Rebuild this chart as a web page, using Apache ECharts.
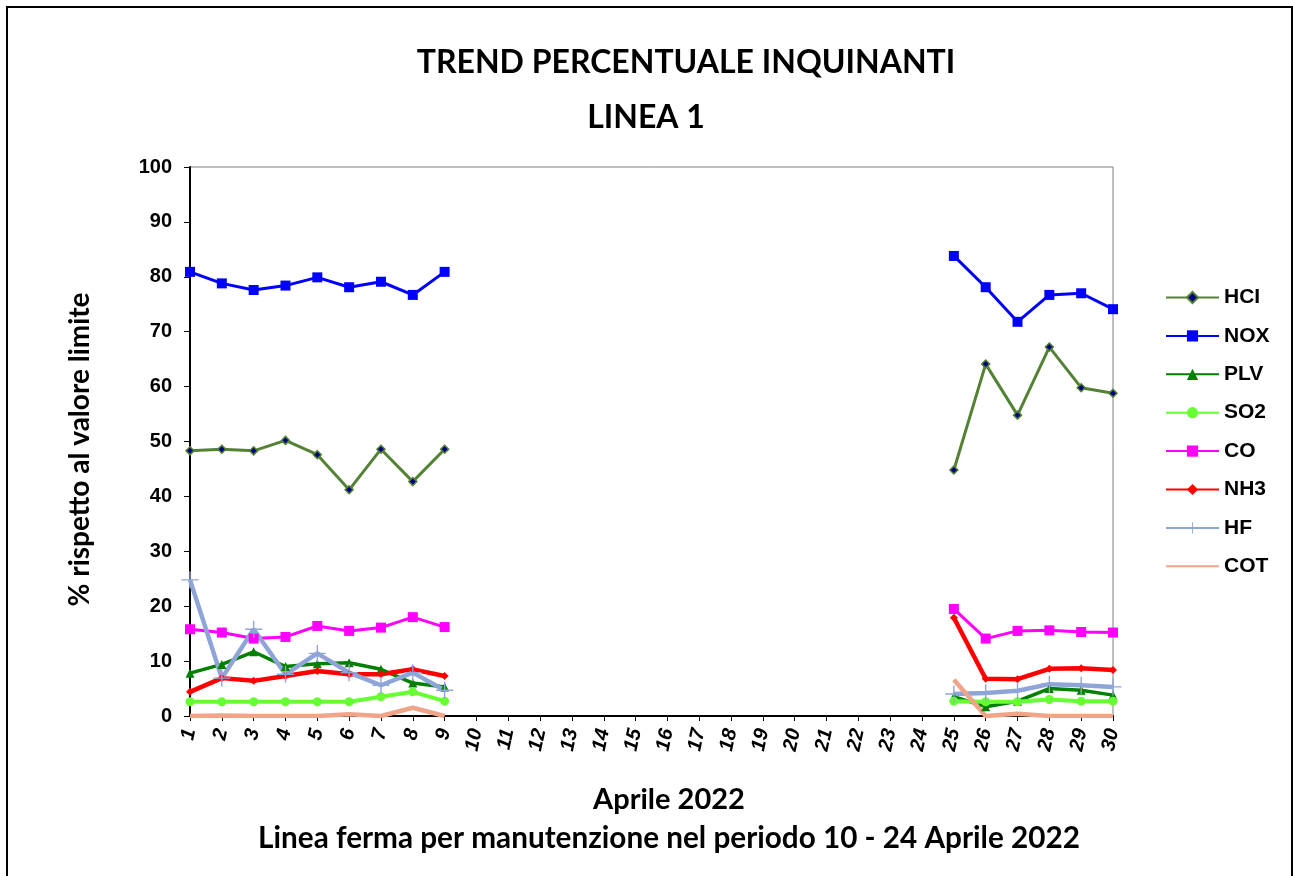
<!DOCTYPE html>
<html>
<head>
<meta charset="utf-8">
<script src="https://cdn.jsdelivr.net/npm/echarts@6/dist/echarts.min.js"></script>
<style>
  html, body { margin: 0; padding: 0; background: #fff; }
  #chart { width: 1293px; height: 876px; }
</style>
</head>
<body>
<div id="chart"></div>
<script>
var days = [];
for (var d = 1; d <= 30; d++) days.push(String(d));

// 10 - 24 aprile: linea ferma (null)
var off = [null, null, null, null, null, null, null, null, null, null, null, null, null, null, null];

var hcl_a = [48.3, 48.6, 48.3, 50.2, 47.6, 41.2, 48.6, 42.7, 48.6];
var hcl_b = [44.8, 64.1, 54.8, 67.2, 59.8, 58.8];
var nox_a = [80.9, 78.8, 77.6, 78.4, 79.9, 78.1, 79.1, 76.7, 80.9];
var nox_b = [83.8, 78.1, 71.8, 76.7, 77.0, 74.1];
var plv_a = [7.8, 9.4, 11.7, 9.0, 9.5, 9.7, 8.5, 6.0, 5.3];
var plv_b = [3.5, 1.7, 2.7, 5.0, 4.7, 3.8];
var so2_a = [2.6, 2.6, 2.6, 2.6, 2.6, 2.6, 3.5, 4.4, 2.7];
var so2_b = [2.7, 2.6, 2.6, 3.0, 2.7, 2.7];
var co_a = [15.8, 15.2, 14.1, 14.4, 16.4, 15.5, 16.1, 18.0, 16.2];
var co_b = [19.5, 14.1, 15.5, 15.6, 15.3, 15.2];
var nh3_a = [4.4, 6.9, 6.4, 7.3, 8.2, 7.6, 7.6, 8.5, 7.3];
var nh3_b = [17.9, 6.8, 6.7, 8.6, 8.7, 8.4];
var hf_a = [24.8, 6.9, 15.8, 7.6, 11.4, 7.9, 5.6, 7.9, 4.7];
var hf_b = [4.0, 4.2, 4.6, 5.8, 5.6, 5.3];
var cot_a = [0, 0.1, 0, 0, 0, 0.3, 0, 1.5, 0];
var cot_b = [6.6, 0, 0.4, 0, 0, 0];

function month(a, b) { return a.concat(off, b); }

var plus = 'path://M4.6,0h0.8v10h-0.8zM0,4.6h10v0.8h-10z';

var chartDom = document.getElementById('chart');
var myChart = echarts.init(chartDom);
var option;

function serie(name, data, color, width, symbol, size, extra) {
    var s = {
        name: name,
        type: 'line',
        data: data,
        symbol: symbol,
        symbolSize: size,
        showSymbol: symbol !== 'none',
        connectNulls: false,
        animation: false,
        lineStyle: { color: color, width: width },
        itemStyle: { color: color },
        emphasis: { disabled: true }
    };
    if (extra) s.itemStyle = extra;
    return s;
}

option = {
    backgroundColor: '#fff',
    animation: false,
    grid: {
        left: 190, top: 167, right: 180, bottom: 160,
        show: true, borderColor: '#808080', borderWidth: 1
    },
    legend: {
        orient: 'vertical',
        left: 1160,
        top: 282,
        itemWidth: 53,
        itemHeight: 14,
        itemGap: 17.4,
        textStyle: { fontFamily: 'Arial, Liberation Sans', fontWeight: 'bold', fontSize: 21, color: '#000' },
        data: ['HCI', 'NOX', 'PLV', 'SO2', 'CO', 'NH3', 'HF', 'COT']
    },
    xAxis: {
        type: 'category',
        data: days,
        boundaryGap: false,
        axisLine: { lineStyle: { color: '#000', width: 2 } },
        axisTick: { show: true, interval: 0, length: 5, lineStyle: { color: '#000', width: 1 } },
        axisLabel: {
            interval: 0, rotate: 78, margin: 13,
            fontFamily: 'Arial, Liberation Sans', fontWeight: 'bold', fontStyle: 'italic',
            fontSize: 20, color: '#000'
        },
        splitLine: { show: false }
    },
    yAxis: {
        type: 'value',
        min: 0, max: 100, interval: 10,
        name: '% rispetto al valore limite',
        nameLocation: 'middle',
        nameRotate: 90,
        nameGap: 96,
        nameTextStyle: { fontFamily: 'Lato', fontWeight: 'bold', fontSize: 28, color: '#000', padding: [0, 16, 0, 0] },
        axisLine: { show: true, lineStyle: { color: '#000', width: 2 } },
        axisTick: { show: true, length: 6, lineStyle: { color: '#000', width: 1 } },
        axisLabel: { margin: 18, fontFamily: 'Arial, Liberation Sans', fontWeight: 'bold', fontSize: 20, color: '#000' },
        splitLine: { show: false }
    },
    graphic: [
        { type: 'rect', shape: { x: 7, y: 7, width: 1285, height: 890 }, style: { fill: 'none', stroke: '#000', lineWidth: 2 }, silent: true },
        { type: 'text', x: 686, y: 63, style: { text: 'TREND PERCENTUALE INQUINANTI', textAlign: 'center', textVerticalAlign: 'middle', font: 'bold 32px Lato', fill: '#000' } },
        { type: 'text', x: 646, y: 118, style: { text: 'LINEA 1', textAlign: 'center', textVerticalAlign: 'middle', font: 'bold 32px Lato', fill: '#000' } },
        { type: 'text', x: 669, y: 800, style: { text: 'Aprile 2022', textAlign: 'center', textVerticalAlign: 'middle', font: 'bold 29px Lato', fill: '#000' } },
        { type: 'text', x: 669, y: 838, style: { text: 'Linea ferma per manutenzione nel periodo 10 - 24 Aprile 2022', textAlign: 'center', textVerticalAlign: 'middle', font: 'bold 29.7px Lato', fill: '#000' } }
    ],
    series: [
        serie('HCI', month(hcl_a, hcl_b), '#548235', 3, 'diamond', 8, { color: '#000080', borderColor: '#548235', borderWidth: 1.5 }),
        serie('NOX', month(nox_a, nox_b), '#0000FF', 3, 'rect', 10),
        serie('PLV', month(plv_a, plv_b), '#008000', 3.5, 'triangle', 9),
        serie('SO2', month(so2_a, so2_b), '#66FF33', 4, 'circle', 9),
        serie('CO', month(co_a, co_b), '#FF00FF', 3, 'rect', 10),
        serie('NH3', month(nh3_a, nh3_b), '#FF0000', 4.5, 'diamond', 8),
        serie('HF', month(hf_a, hf_b), '#8FA5D8', 4.5, plus, 17),
        serie('COT', month(cot_a, cot_b), '#F0A488', 4.5, 'none', 0, { color: '#F0A488', opacity: 0 })
    ]
};

option && myChart.setOption(option);
</script>
</body>
</html>
